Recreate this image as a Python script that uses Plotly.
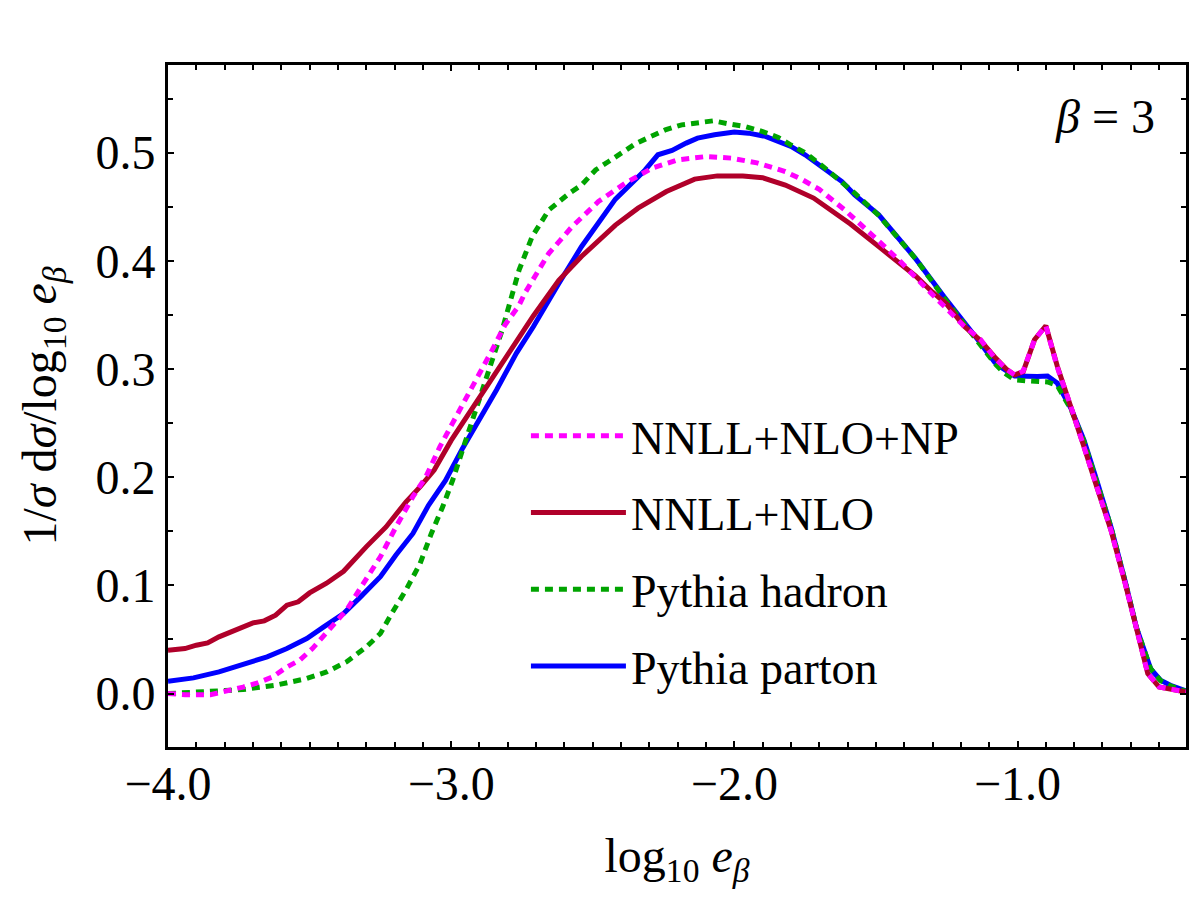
import plotly.graph_objects as go

# NNLL+NLO (solid crimson)
x_nnll = [-4.00, -3.94, -3.90, -3.86, -3.82, -3.75, -3.70, -3.66, -3.62, -3.58, -3.54, -3.50,
          -3.44, -3.38, -3.35, -3.30, -3.23, -3.16, -3.11, -3.06, -3.00, -2.93, -2.87, -2.80,
          -2.71, -2.62, -2.54, -2.42, -2.34, -2.24, -2.14, -2.06, -1.97, -1.90, -1.82, -1.72,
          -1.59, -1.48, -1.42, -1.36, -1.30, -1.25, -1.19, -1.13, -1.08, -1.04, -1.01, -0.98,
          -0.94, -0.90, -0.86, -0.81, -0.765, -0.72, -0.67, -0.62, -0.58, -0.54, -0.50, -0.46, -0.405]
y_nnll = [0.040, 0.0416, 0.0447, 0.0468, 0.0524, 0.060, 0.0653, 0.0672, 0.0724, 0.0817, 0.0848, 0.093,
          0.102, 0.113, 0.122, 0.1356, 0.154, 0.177, 0.191, 0.2066, 0.234, 0.262, 0.287, 0.3145,
          0.349, 0.382, 0.404, 0.433, 0.4487, 0.464, 0.4755, 0.4785, 0.4785, 0.4768, 0.470, 0.458,
          0.434, 0.411, 0.398, 0.386, 0.371, 0.360, 0.340, 0.326, 0.311, 0.300, 0.2945, 0.2975,
          0.327, 0.340, 0.303, 0.265, 0.228, 0.191, 0.151, 0.102, 0.0586, 0.0185, 0.006, 0.004, 0.0015]

# NNLL+NLO+NP (dotted magenta)
x_np = [-4.00, -3.94, -3.85, -3.79, -3.735, -3.69, -3.63, -3.58, -3.535, -3.49, -3.42, -3.37,
        -3.31, -3.25, -3.195, -3.135, -3.09, -3.04, -2.995, -2.95, -2.90, -2.855, -2.81, -2.76,
        -2.74, -2.655, -2.573, -2.48, -2.385, -2.29, -2.20, -2.10, -2.01, -1.92, -1.82, -1.76,
        -1.70, -1.61, -1.52, -1.42, -1.305, -1.19, -1.13, -1.08, -1.04, -1.01, -0.98, -0.94,
        -0.90, -0.86, -0.81, -0.765, -0.72, -0.67, -0.62, -0.58, -0.54, -0.50, -0.46, -0.405]
y_np = [0.000, -0.001, -0.001, 0.0024, 0.006, 0.0093, 0.0154, 0.0246, 0.0308, 0.0416, 0.0632, 0.077,
        0.1018, 0.1264, 0.154, 0.182, 0.200, 0.228, 0.250, 0.271, 0.296, 0.3176, 0.3407, 0.359,
        0.370, 0.407, 0.4316, 0.4548, 0.4718, 0.4857, 0.4933, 0.4964, 0.4949, 0.4905, 0.4825, 0.475,
        0.466, 0.447, 0.4255, 0.401, 0.370, 0.340, 0.327, 0.310, 0.300, 0.2945, 0.298, 0.327,
        0.340, 0.302, 0.264, 0.228, 0.191, 0.151, 0.102, 0.0586, 0.0185, 0.006, 0.004, 0.0015]

# Pythia hadron (dotted green)
x_had = [-4.00, -3.85, -3.735, -3.62, -3.51, -3.44, -3.37, -3.30, -3.25, -3.21, -3.16, -3.11,
         -3.07, -3.03, -2.995, -2.96, -2.925, -2.89, -2.855, -2.82, -2.76, -2.714, -2.655, -2.585,
         -2.54, -2.49, -2.444, -2.40, -2.35, -2.30, -2.244, -2.186, -2.127, -2.074, -2.02, -1.96,
         -1.90, -1.845, -1.80, -1.75, -1.68, -1.62, -1.575, -1.49, -1.36, -1.26, -1.14, -1.08,
         -1.05, -1.01, -0.965, -0.93, -0.894, -0.86, -0.81, -0.765, -0.72, -0.67, -0.62, -0.58,
         -0.53, -0.495, -0.46, -0.405]
y_had = [0.000, 0.0024, 0.0037, 0.0077, 0.0139, 0.020, 0.0292, 0.043, 0.0555, 0.074, 0.0956, 0.120,
         0.148, 0.1726, 0.197, 0.225, 0.253, 0.2806, 0.308, 0.336, 0.3916, 0.4224, 0.447, 0.462,
         0.470, 0.484, 0.4918, 0.500, 0.508, 0.5143, 0.521, 0.5257, 0.5278, 0.5294, 0.5266, 0.524,
         0.5195, 0.514, 0.507, 0.500, 0.4857, 0.473, 0.4625, 0.442, 0.402, 0.366, 0.326, 0.305,
         0.297, 0.290, 0.289, 0.289, 0.288, 0.285, 0.262, 0.233, 0.197, 0.154, 0.104, 0.061,
         0.023, 0.012, 0.007, 0.002]

# Pythia parton (solid blue)
x_par = [-4.00, -3.91, -3.82, -3.735, -3.65, -3.58, -3.51, -3.45, -3.38, -3.32, -3.25, -3.195,
         -3.135, -3.08, -3.02, -2.96, -2.90, -2.84, -2.77, -2.71, -2.62, -2.54, -2.42, -2.34,
         -2.315, -2.27, -2.22, -2.17, -2.13, -2.07, -2.00, -1.95, -1.89, -1.80, -1.75, -1.62,
         -1.575, -1.49, -1.36, -1.26, -1.165, -1.14, -1.08, -1.06, -1.01, -0.965, -0.93, -0.894,
         -0.86, -0.81, -0.765, -0.72, -0.67, -0.62, -0.58, -0.53, -0.495, -0.46, -0.405]
y_par = [0.0114, 0.0145, 0.020, 0.0268, 0.0339, 0.0416, 0.0509, 0.0616, 0.074, 0.0894, 0.108, 0.128,
         0.148, 0.174, 0.197, 0.2266, 0.253, 0.2806, 0.3145, 0.339, 0.379, 0.413, 0.457, 0.478,
         0.484, 0.498, 0.502, 0.5088, 0.5134, 0.5165, 0.519, 0.518, 0.515, 0.5057, 0.498, 0.4733,
         0.461, 0.4425, 0.402, 0.367, 0.336, 0.327, 0.306, 0.302, 0.2935, 0.293, 0.293, 0.2935,
         0.287, 0.263, 0.234, 0.197, 0.154, 0.104, 0.061, 0.023, 0.0123, 0.0077, 0.0025]

x_ticks = [-4.0, -3.0, -2.0, -1.0]
y_ticks = [0.0, 0.1, 0.2, 0.3, 0.4, 0.5]

FONT = "Liberation Serif"
LW = 5
DOT = "8px,6px"

fig = go.Figure()
# drawing order: blue, green, red, magenta; legend order set by legendrank
fig.add_trace(go.Scatter(x=x_par, y=y_par, mode="lines", name="Pythia parton",
                         legendgroup="d", legendrank=4,
                         line=dict(color="#0000FF", width=LW)))
fig.add_trace(go.Scatter(x=x_had, y=y_had, mode="lines", name="Pythia hadron",
                         legendgroup="c", legendrank=3,
                         line=dict(color="#00A400", width=LW, dash=DOT)))
fig.add_trace(go.Scatter(x=x_nnll, y=y_nnll, mode="lines", name="NNLL+NLO",
                         legendgroup="b", legendrank=2,
                         line=dict(color="#B0002A", width=LW)))
fig.add_trace(go.Scatter(x=x_np, y=y_np, mode="lines", name="NNLL+NLO+NP",
                         legendgroup="a", legendrank=1,
                         line=dict(color="#FF00FF", width=LW, dash=DOT)))

axis_common = dict(
    showline=True, linecolor="black", linewidth=3, mirror="allticks",
    ticks="inside", ticklen=6, tickwidth=2, tickcolor="black",
    showgrid=False, zeroline=False,
    tickfont=dict(family=FONT, size=48, color="black"),
)

fig.update_xaxes(range=[-4.0, -0.405], tickvals=x_ticks, tickformat=".1f",
                 ticklabelstandoff=-8,
                 minor=dict(dtick=0.1, tick0=-4.0, ticks="inside", ticklen=5, tickwidth=2,
                            tickcolor="black", showgrid=False),
                 title=dict(text="log<sub>10</sub> <i>e</i><sub><i>β</i></sub>",
                            font=dict(family=FONT, size=48, color="black"), standoff=30),
                 **axis_common)
fig.update_yaxes(range=[-0.0494, 0.581], tickvals=y_ticks, tickformat=".1f",
                 minor=dict(dtick=0.05, tick0=0.0, ticks="inside", ticklen=5, tickwidth=2,
                            tickcolor="black", showgrid=False),
                 title=dict(text="1/<i>σ</i> d<i>σ</i>/log<sub>10</sub> <i>e</i><sub><i>β</i></sub>",
                            font=dict(family=FONT, size=48, color="black"), standoff=24),
                 **axis_common)

fig.add_annotation(text="<i>β</i> = 3", xref="paper", yref="paper", x=0.92, y=0.925,
                   xanchor="center", yanchor="middle", showarrow=False,
                   font=dict(family=FONT, size=48, color="black"))

fig.update_layout(
    width=1192, height=906,
    margin=dict(l=160, r=11, t=57, b=167),
    paper_bgcolor="white", plot_bgcolor="white",
    showlegend=True,
    legend=dict(x=0.3516, y=0.287, xanchor="left", yanchor="middle",
                traceorder="grouped", tracegroupgap=14,
                font=dict(family=FONT, size=46, color="black"),
                bgcolor="rgba(0,0,0,0)", itemwidth=95),
)

fig.write_html("out.html")
